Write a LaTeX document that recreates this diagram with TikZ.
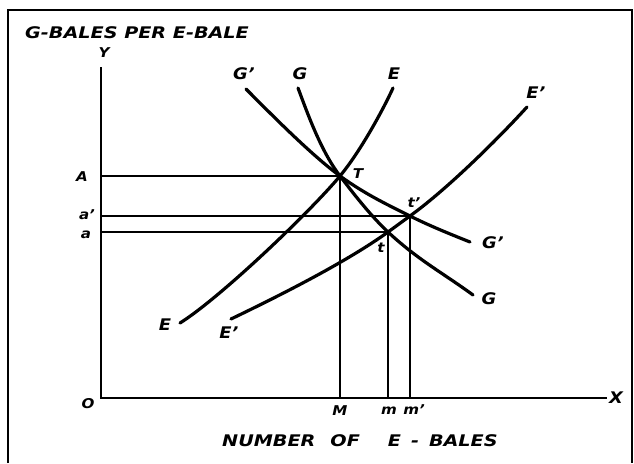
\documentclass[tikz,border=0pt]{standalone}
\usepackage{fontspec}
\setmainfont{DejaVu Sans}[FakeStretch=1.12]
\newfontfamily\widefont{DejaVu Sans}[FakeStretch=1.2]
\begin{document}
\begin{tikzpicture}[x=1pt,y=-1pt,
  lbl/.style={inner sep=0pt, font=\fontsize{13.5}{13.5}\selectfont\bfseries\itshape},
  biglbl/.style={inner sep=0pt, font=\fontsize{16}{16}\selectfont\bfseries\itshape},
  ttl/.style={inner sep=0pt, font=\widefont\fontsize{16}{16}\selectfont\bfseries\itshape},
  curve/.style={line width=3.2pt, line cap=round},
  axis/.style={line width=2.2pt},
  guide/.style={line width=1.5pt},
  frame/.style={line width=2.2pt}]
\useasboundingbox (0,0) rectangle (634,463);
% frame
\draw[frame] (8,463) -- (8,10) -- (632,10) -- (632,463);
% key points
\coordinate (O) at (101,398);
\coordinate (Ytop) at (101,67);
\coordinate (Xend) at (607,398);
\coordinate (T) at (340,176);
\coordinate (t) at (388,232);
\coordinate (tp) at (410,216);
\coordinate (Ay) at (101,176);
\coordinate (apy) at (101,216);
\coordinate (ay) at (101,232);
\coordinate (Mx) at (340,398);
\coordinate (mx) at (388,398);
\coordinate (mpx) at (410,398);
\coordinate (Es) at (180,323);
\coordinate (Ee) at (393,88);
\coordinate (Eps) at (231,319);
\coordinate (Epe) at (527,107);
\coordinate (Gs) at (298,88);
\coordinate (Ge) at (473,295);
\coordinate (Gps) at (246,89);
\coordinate (Gpe) at (470,242);
% axes
\draw[axis] (Ytop) -- (O) -- (Xend);
% guides
\draw[guide] (Ay) -- (T);
\draw[guide] (apy) -- (tp);
\draw[guide] (ay) -- (t);
\draw[guide] (T) -- (Mx);
\draw[line width=2.4pt] (t) -- (mx);
\draw[line width=2pt] (tp) -- (mpx);
% curves
\draw[curve] (Es) .. controls (220,298) and (310,212) .. (T)
                  .. controls (360,152) and (383,110) .. (Ee);
\draw[curve] (Eps) .. controls (281,295) and (348,261) .. (t)
                   .. controls (395,227) and (403,221) .. (tp)
                   .. controls (450,187) and (502,134.5) .. (Epe);
\draw[curve] (Gs) .. controls (306,109) and (320,150) .. (T)
                  .. controls (356,197) and (372,217) .. (t)
                  .. controls (418,260) and (443,273) .. (Ge);
\draw[curve] (Gps) .. controls (268,111) and (310,154) .. (T)
                   .. controls (365,194) and (385,203.5) .. (tp)
                   .. controls (430,226) and (450,234) .. (Gpe);
% labels
\node[ttl, anchor=west] (title) at (25,33) {G-BALES PER E-BALE};
\node[ttl, anchor=west] (xtitle) at (222,441) {NUMBER\hspace{15pt}OF\hspace{28pt}E\hspace{10pt}-\hspace{10pt}BALES};
\node[lbl] (ylab) at (104,53) {Y};
\node[biglbl] (xlab) at (616,398) {X};
\node[lbl] (olab) at (88,404) {O};
\node[lbl] (alab) at (82,177) {A};
\node[lbl] (aplab) at (87,215) {a'};
\node[lbl] (alab2) at (86,235) {a};
\node[lbl] (Mlab) at (340,411) {M};
\node[lbl] (mlab) at (389,411) {m};
\node[lbl] (mplab) at (414,410) {m'};
\node[lbl] (Tlab) at (358,174) {T};
\node[lbl] (tplab) at (414,203) {t'};
\node[lbl] (tlab) at (381,248) {t};
\node[biglbl] (Gp1) at (244,74) {G'};
\node[biglbl] (G1) at (300,74) {G};
\node[biglbl] (E1) at (394,74) {E};
\node[biglbl] (Ep1) at (536,93) {E'};
\node[biglbl] (Gp2) at (493,243) {G'};
\node[biglbl] (G2) at (489,299) {G};
\node[biglbl] (E2) at (165,325) {E};
\node[biglbl] (Ep2) at (229,333) {E'};
\end{tikzpicture}
\end{document}
